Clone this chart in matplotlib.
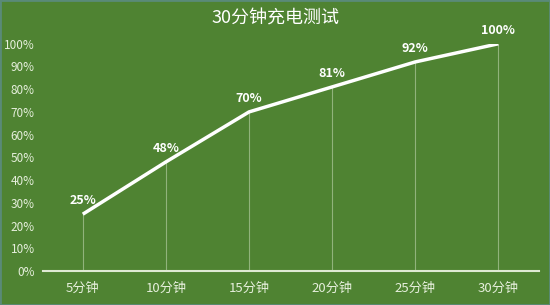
import matplotlib
matplotlib.use("Agg")
import matplotlib.pyplot as plt

plt.rcParams['font.family'] = ['Noto Sans CJK SC', 'DejaVu Sans']

categories = ["5分钟", "10分钟", "15分钟", "20分钟", "25分钟", "30分钟"]
values = [25, 48, 70, 81, 92, 100]
labels = ["25%", "48%", "70%", "81%", "92%", "100%"]
yticks = [0, 10, 20, 30, 40, 50, 60, 70, 80, 90, 100]
title = "30分钟充电测试"

bg = "#4f8332"
fig = plt.figure(figsize=(5.5, 3.05), dpi=100, facecolor=bg)
ax = fig.add_axes([0.078, 0.1115, 0.902, 0.745])
ax.set_facecolor(bg)

x = list(range(len(categories)))
ax.vlines(x, 0, values, color="#c9dcb8", linewidth=0.8, alpha=0.55)
ax.plot(x, values, color="white", linewidth=2.5, solid_capstyle="butt", zorder=3)
for xi, v, lab in zip(x, values, labels):
    ax.text(xi, v + 3, lab, ha="center", va="bottom", color="white",
            fontsize=9, fontweight="bold")

ax.set_xlim(-0.48, 5.49)
ax.set_ylim(0, 100)
ax.set_yticks(yticks)
ax.set_yticklabels([f"{t}%" for t in yticks])
ax.set_xticks(x)
ax.set_xticklabels(categories)
ax.tick_params(axis="both", length=0, colors="#e6efdc")
ax.tick_params(axis="x", pad=8, labelsize=9.5)
ax.tick_params(axis="y", pad=6, labelsize=8.5)
for s in ["top", "right", "left"]:
    ax.spines[s].set_visible(False)
ax.spines["bottom"].set_color("#dfe9d3")
ax.spines["bottom"].set_linewidth(1.5)

fig.text(0.5, 0.94, title, ha="center", va="center", color="white",
         fontsize=13, fontweight="medium")

border = plt.Rectangle((0, 0), 1, 1, transform=fig.transFigure, fill=False,
                       edgecolor="#5a8a78", linewidth=2)
fig.patches.append(border)

fig.savefig("out.png", dpi=100, facecolor=bg)
